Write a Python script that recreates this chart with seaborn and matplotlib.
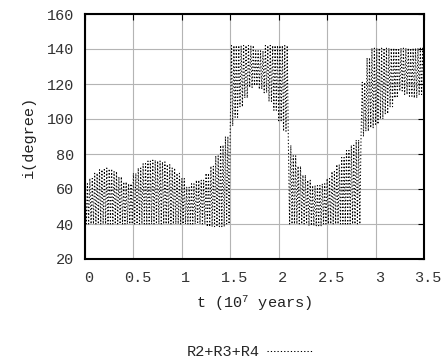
import numpy as np
import pandas as pd
import matplotlib
matplotlib.use("Agg")
import matplotlib.pyplot as plt
import seaborn as sns
from matplotlib.transforms import ScaledTranslation

# ---- data ----
t_knots = np.round(np.arange(0, 3.5001, 0.05), 2)
# curve the oscillation departs from (inner envelope)
mid = [63, 66, 69, 71, 72, 71.5, 70, 67, 64, 63,
       69, 72, 74.5, 76, 76.5, 76, 75.5, 74, 72, 69,
       66, 61, 63, 65, 65, 69, 73, 79, 85, 90,
       96, 101, 107, 112, 118, 119, 117, 115, 110, 105,
       99, 93, 85, 79, 73, 68, 65, 62, 62, 63,
       66, 70, 74, 78, 82, 85, 88, 90, 93, 95,
       97, 100, 103, 107, 112, 116, 114, 113, 112, 114,
       116]
# extreme value reached in each swing (outer envelope)
ext = [40, 40, 40, 40, 40, 40, 40, 40, 40, 40,
       40, 40, 40, 40, 40, 40, 40, 40, 40, 40,
       40, 40, 40, 40, 40, 38.5, 38.5, 38.5, 38.5, 40,
       142, 142, 142, 142, 142, 139, 139, 142, 142, 142,
       142, 142, 40, 40, 40, 40, 39, 39, 39, 40,
       40, 40, 40, 40, 40, 40, 40, 121, 135, 140.5,
       140.5, 140.5, 140.5, 140.5, 140.5, 140.5, 140.5, 140.5, 140.5, 140.5,
       140.5]
swings_per_knot = 2
knot_step = 0.05
series_name = "R2+R3+R4"
x_ticks = [0, 0.5, 1, 1.5, 2, 2.5, 3, 3.5]
x_tick_labels = ["0", "0.5", "1", "1.5", "2", "2.5", "3", "3.5"]
y_ticks = [20, 40, 60, 80, 100, 120, 140, 160]

quarter = knot_step / (2 * swings_per_knot)
xs, ys = [], []
for t, m, e in zip(t_knots, mid, ext):
    for k in range(swings_per_knot):
        xs += [t + 2 * k * quarter, t + (2 * k + 1) * quarter]
        ys += [m, e]
df = pd.DataFrame({"t": xs, "i": ys})

sns.set_style("white")
plt.rcParams["font.family"] = ["Liberation Mono", "DejaVu Sans"]
plt.rcParams["mathtext.default"] = "regular"

fig = plt.figure(figsize=(4.41, 3.58), dpi=100)
ax = fig.add_axes([85 / 441, 1 - 259 / 358, (424 - 85) / 441, (259 - 14) / 358])

sns.lineplot(data=df, x="t", y="i", sort=False, estimator=None, ax=ax,
             color="black", linewidth=0.75, linestyle=(0, (1.2, 2.0)),
             label=series_name, legend=False)

ax.set_xlim(0, 3.5)
ax.set_ylim(20, 160)
ax.set_xticks(x_ticks)
ax.set_xticklabels(x_tick_labels)
ax.set_yticks(y_ticks)
ax.grid(True, color="#b4b4b4", linewidth=0.8)
ax.set_axisbelow(True)
for s in ax.spines.values():
    s.set_color("black")
    s.set_linewidth(1.5)
ax.tick_params(direction="in", length=4, top=True, right=True,
               labelsize=11, colors="black", labelcolor="#333333")
ax.tick_params(axis="x", pad=9)
ax.tick_params(axis="y", pad=8)
for lab in ax.get_xticklabels():
    lab.set_transform(lab.get_transform() + ScaledTranslation(4 / 100, 0, fig.dpi_scale_trans))

ax.set_xlabel("t (10$^{7}$ years)", fontsize=11, color="#222222", labelpad=6)
ax.set_ylabel("i(degree)", fontsize=11, color="#222222", labelpad=8)

handles, labels = ax.get_legend_handles_labels()
fig.legend(handles, labels, loc="center", bbox_to_anchor=(250 / 441, 1 - 352 / 358),
           frameon=False, markerfirst=False, handlelength=3, handletextpad=0.5,
           fontsize=11)

fig.savefig("out.png", dpi=100)
